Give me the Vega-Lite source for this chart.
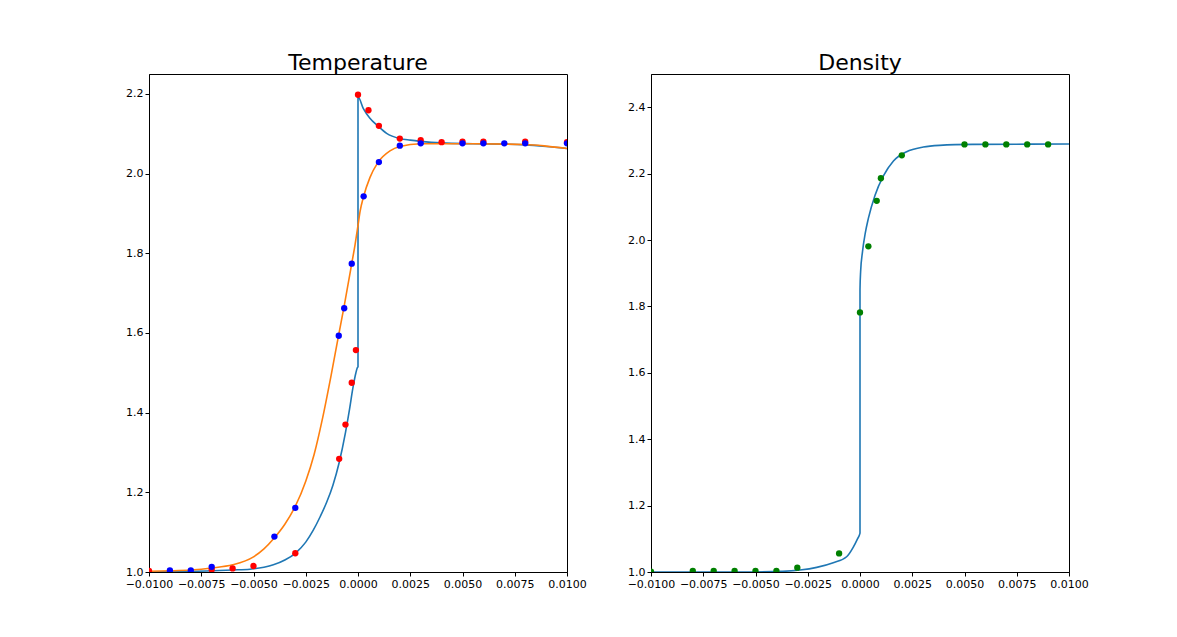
{
  "$schema": "https://vega.github.io/schema/vega-lite/v6.json",
  "description": "Temperature and density profiles across a shock, lines with sampled points.",
  "background": "white",
  "padding": {"left": 124, "top": 51, "right": 10, "bottom": 10},
  "spacing": 84,
  "bounds": "flush",
  "config": {
    "font": "DejaVu Sans",
    "view": {"stroke": "black", "strokeWidth": 1},
    "axis": {
      "grid": false,
      "domainColor": "black",
      "tickColor": "black",
      "tickSize": 4,
      "labelFont": "DejaVu Sans",
      "labelFontSize": 11,
      "labelColor": "black",
      "labelPadding": 2,
      "labelOverlap": false,
      "labelBound": false,
      "labelFlush": false,
      "title": null
    },
    "title": {"font": "DejaVu Sans", "fontSize": 22, "fontWeight": "normal", "color": "black", "offset": -1}
  },
  "datasets": {
    "temp_lines": [
      {"i": 1, "s": "T1", "x": -0.01, "y": 1.0},
      {"i": 2, "s": "T1", "x": -0.0085, "y": 1.001},
      {"i": 3, "s": "T1", "x": -0.00726, "y": 1.0025},
      {"i": 4, "s": "T1", "x": -0.006, "y": 1.005},
      {"i": 5, "s": "T1", "x": -0.00517, "y": 1.007},
      {"i": 6, "s": "T1", "x": -0.0045, "y": 1.012},
      {"i": 7, "s": "T1", "x": -0.00405, "y": 1.018},
      {"i": 8, "s": "T1", "x": -0.0035, "y": 1.03},
      {"i": 9, "s": "T1", "x": -0.003, "y": 1.047},
      {"i": 10, "s": "T1", "x": -0.0025, "y": 1.075},
      {"i": 11, "s": "T1", "x": -0.00214, "y": 1.105},
      {"i": 12, "s": "T1", "x": -0.0018, "y": 1.14},
      {"i": 13, "s": "T1", "x": -0.0015, "y": 1.175},
      {"i": 14, "s": "T1", "x": -0.0012, "y": 1.218},
      {"i": 15, "s": "T1", "x": -0.0009, "y": 1.275},
      {"i": 16, "s": "T1", "x": -0.0006, "y": 1.35},
      {"i": 17, "s": "T1", "x": -0.0004, "y": 1.41},
      {"i": 18, "s": "T1", "x": -0.00025, "y": 1.46},
      {"i": 19, "s": "T1", "x": -0.0001, "y": 1.5},
      {"i": 20, "s": "T1", "x": -0.00003, "y": 1.513},
      {"i": 21, "s": "T1", "x": 0, "y": 1.515},
      {"i": 22, "s": "T1", "x": 0, "y": 2.193},
      {"i": 23, "s": "T1", "x": 0.00025, "y": 2.164},
      {"i": 24, "s": "T1", "x": 0.00057, "y": 2.139},
      {"i": 25, "s": "T1", "x": 0.00094, "y": 2.12},
      {"i": 26, "s": "T1", "x": 0.00137, "y": 2.101},
      {"i": 27, "s": "T1", "x": 0.002, "y": 2.088},
      {"i": 28, "s": "T1", "x": 0.0025, "y": 2.084},
      {"i": 29, "s": "T1", "x": 0.003, "y": 2.081},
      {"i": 30, "s": "T1", "x": 0.004, "y": 2.077},
      {"i": 31, "s": "T1", "x": 0.0055, "y": 2.075},
      {"i": 32, "s": "T1", "x": 0.007, "y": 2.074},
      {"i": 33, "s": "T1", "x": 0.008, "y": 2.072},
      {"i": 34, "s": "T1", "x": 0.009, "y": 2.068},
      {"i": 35, "s": "T1", "x": 0.01, "y": 2.063},
      {"i": 1, "s": "T2", "x": -0.01, "y": 1.002},
      {"i": 2, "s": "T2", "x": -0.009, "y": 1.003},
      {"i": 3, "s": "T2", "x": -0.008, "y": 1.005},
      {"i": 4, "s": "T2", "x": -0.007, "y": 1.01},
      {"i": 5, "s": "T2", "x": -0.006, "y": 1.018},
      {"i": 6, "s": "T2", "x": -0.005, "y": 1.038},
      {"i": 7, "s": "T2", "x": -0.0045, "y": 1.058},
      {"i": 8, "s": "T2", "x": -0.004, "y": 1.086},
      {"i": 9, "s": "T2", "x": -0.0035, "y": 1.12},
      {"i": 10, "s": "T2", "x": -0.003, "y": 1.165},
      {"i": 11, "s": "T2", "x": -0.0025, "y": 1.228},
      {"i": 12, "s": "T2", "x": -0.0021, "y": 1.295},
      {"i": 13, "s": "T2", "x": -0.0017, "y": 1.385},
      {"i": 14, "s": "T2", "x": -0.0013, "y": 1.49},
      {"i": 15, "s": "T2", "x": -0.00094, "y": 1.591},
      {"i": 16, "s": "T2", "x": -0.00066, "y": 1.668},
      {"i": 17, "s": "T2", "x": -0.0003, "y": 1.774},
      {"i": 18, "s": "T2", "x": -0.00014, "y": 1.822},
      {"i": 19, "s": "T2", "x": 0, "y": 1.87},
      {"i": 20, "s": "T2", "x": 0.0001, "y": 1.905},
      {"i": 21, "s": "T2", "x": 0.00027, "y": 1.943},
      {"i": 22, "s": "T2", "x": 0.00057, "y": 1.99},
      {"i": 23, "s": "T2", "x": 0.00094, "y": 2.027},
      {"i": 24, "s": "T2", "x": 0.00153, "y": 2.057},
      {"i": 25, "s": "T2", "x": 0.002, "y": 2.068},
      {"i": 26, "s": "T2", "x": 0.003, "y": 2.075},
      {"i": 27, "s": "T2", "x": 0.0055, "y": 2.075},
      {"i": 28, "s": "T2", "x": 0.008, "y": 2.073},
      {"i": 29, "s": "T2", "x": 0.009, "y": 2.069},
      {"i": 30, "s": "T2", "x": 0.01, "y": 2.063}
    ],
    "temp_points": [
      {"s": "red", "x": -0.01, "y": 1.003},
      {"s": "red", "x": -0.007, "y": 1.006},
      {"s": "red", "x": -0.006, "y": 1.009},
      {"s": "red", "x": -0.005, "y": 1.015},
      {"s": "red", "x": -0.003, "y": 1.047},
      {"s": "red", "x": -0.0009, "y": 1.284},
      {"s": "red", "x": -0.0006, "y": 1.37},
      {"s": "red", "x": -0.0003, "y": 1.475},
      {"s": "red", "x": -0.0001, "y": 1.557},
      {"s": "red", "x": 0, "y": 2.198},
      {"s": "red", "x": 0.0005, "y": 2.159},
      {"s": "red", "x": 0.001, "y": 2.12},
      {"s": "red", "x": 0.002, "y": 2.088},
      {"s": "red", "x": 0.003, "y": 2.084},
      {"s": "red", "x": 0.004, "y": 2.079},
      {"s": "red", "x": 0.005, "y": 2.08},
      {"s": "red", "x": 0.006, "y": 2.08},
      {"s": "red", "x": 0.008, "y": 2.08},
      {"s": "red", "x": 0.01, "y": 2.079},
      {"s": "blue", "x": -0.009, "y": 1.004},
      {"s": "blue", "x": -0.008, "y": 1.004},
      {"s": "blue", "x": -0.007, "y": 1.013},
      {"s": "blue", "x": -0.004, "y": 1.089},
      {"s": "blue", "x": -0.003, "y": 1.161},
      {"s": "blue", "x": -0.00092, "y": 1.593},
      {"s": "blue", "x": -0.00066, "y": 1.662},
      {"s": "blue", "x": -0.0003, "y": 1.774},
      {"s": "blue", "x": 0.00027, "y": 1.943},
      {"s": "blue", "x": 0.001, "y": 2.029},
      {"s": "blue", "x": 0.002, "y": 2.07},
      {"s": "blue", "x": 0.003, "y": 2.076},
      {"s": "blue", "x": 0.005, "y": 2.076},
      {"s": "blue", "x": 0.006, "y": 2.076},
      {"s": "blue", "x": 0.007, "y": 2.076},
      {"s": "blue", "x": 0.008, "y": 2.076},
      {"s": "blue", "x": 0.01, "y": 2.076}
    ],
    "dens_line": [
      {"i": 1, "x": -0.01, "y": 1.0},
      {"i": 2, "x": -0.0056, "y": 1.0},
      {"i": 3, "x": -0.0037, "y": 1.002},
      {"i": 4, "x": -0.00287, "y": 1.006},
      {"i": 5, "x": -0.00207, "y": 1.014},
      {"i": 6, "x": -0.00128, "y": 1.028},
      {"i": 7, "x": -0.00064, "y": 1.046},
      {"i": 8, "x": -0.00032, "y": 1.075},
      {"i": 9, "x": -0.00012, "y": 1.1},
      {"i": 10, "x": 0, "y": 1.117},
      {"i": 11, "x": 0, "y": 1.851},
      {"i": 12, "x": 0.00003, "y": 1.905},
      {"i": 13, "x": 0.00012, "y": 1.965},
      {"i": 14, "x": 0.00025, "y": 2.02},
      {"i": 15, "x": 0.0004, "y": 2.065},
      {"i": 16, "x": 0.00072, "y": 2.135},
      {"i": 17, "x": 0.00112, "y": 2.193},
      {"i": 18, "x": 0.0016, "y": 2.238},
      {"i": 19, "x": 0.00223, "y": 2.266},
      {"i": 20, "x": 0.00303, "y": 2.28},
      {"i": 21, "x": 0.0038, "y": 2.285},
      {"i": 22, "x": 0.0054, "y": 2.288},
      {"i": 23, "x": 0.01, "y": 2.289}
    ],
    "dens_points": [
      {"x": -0.01, "y": 1.001},
      {"x": -0.008, "y": 1.003},
      {"x": -0.007, "y": 1.003},
      {"x": -0.006, "y": 1.003},
      {"x": -0.005, "y": 1.003},
      {"x": -0.004, "y": 1.003},
      {"x": -0.003, "y": 1.013},
      {"x": -0.001, "y": 1.056},
      {"x": 0, "y": 1.782},
      {"x": 0.0004, "y": 1.981},
      {"x": 0.0008, "y": 2.118},
      {"x": 0.001, "y": 2.186},
      {"x": 0.002, "y": 2.255},
      {"x": 0.005, "y": 2.288},
      {"x": 0.006, "y": 2.288},
      {"x": 0.007, "y": 2.288},
      {"x": 0.008, "y": 2.288},
      {"x": 0.009, "y": 2.288}
    ]
  },
  "hconcat": [
    {
      "title": "Temperature",
      "width": 418,
      "height": 498,
      "layer": [
        {
          "data": {"name": "temp_lines"},
          "mark": {"type": "line", "strokeWidth": 1.6, "clip": true, "interpolate": "monotone"},
          "encoding": {
            "x": {"field": "x", "type": "quantitative", "scale": {"domain": [-0.01, 0.01], "nice": false, "zero": false},
                  "axis": {"values": [-0.01, -0.0075, -0.005, -0.0025, 0, 0.0025, 0.005, 0.0075, 0.01], "format": ".4f"}},
            "y": {"field": "y", "type": "quantitative", "scale": {"domain": [1.0, 2.25], "nice": false, "zero": false},
                  "axis": {"values": [1.0, 1.2, 1.4, 1.6, 1.8, 2.0, 2.2], "format": ".1f"}},
            "color": {"field": "s", "type": "nominal", "scale": {"domain": ["T1", "T2"], "range": ["#1f77b4", "#ff7f0e"]}, "legend": null},
            "order": {"field": "i", "type": "quantitative"}
          }
        },
        {
          "data": {"name": "temp_points"},
          "mark": {"type": "point", "filled": true, "opacity": 1, "size": 40, "clip": true},
          "encoding": {
            "x": {"field": "x", "type": "quantitative"},
            "y": {"field": "y", "type": "quantitative"},
            "fill": {"field": "s", "type": "nominal", "scale": {"domain": ["red", "blue"], "range": ["#ff0000", "#0000ff"]}, "legend": null},
            "order": {"field": "s", "sort": "descending"}
          }
        }
      ],
      "resolve": {"scale": {"color": "independent"}}
    },
    {
      "title": "Density",
      "width": 418,
      "height": 498,
      "layer": [
        {
          "data": {"name": "dens_line"},
          "mark": {"type": "line", "strokeWidth": 1.6, "color": "#1f77b4", "clip": true, "interpolate": "monotone"},
          "encoding": {
            "x": {"field": "x", "type": "quantitative", "scale": {"domain": [-0.01, 0.01], "nice": false, "zero": false},
                  "axis": {"values": [-0.01, -0.0075, -0.005, -0.0025, 0, 0.0025, 0.005, 0.0075, 0.01], "format": ".4f"}},
            "y": {"field": "y", "type": "quantitative", "scale": {"domain": [1.0, 2.5], "nice": false, "zero": false},
                  "axis": {"values": [1.0, 1.2, 1.4, 1.6, 1.8, 2.0, 2.2, 2.4], "format": ".1f"}},
            "order": {"field": "i", "type": "quantitative"}
          }
        },
        {
          "data": {"name": "dens_points"},
          "mark": {"type": "point", "filled": true, "opacity": 1, "size": 40, "color": "#008000", "clip": true},
          "encoding": {
            "x": {"field": "x", "type": "quantitative"},
            "y": {"field": "y", "type": "quantitative"}
          }
        }
      ]
    }
  ]
}
